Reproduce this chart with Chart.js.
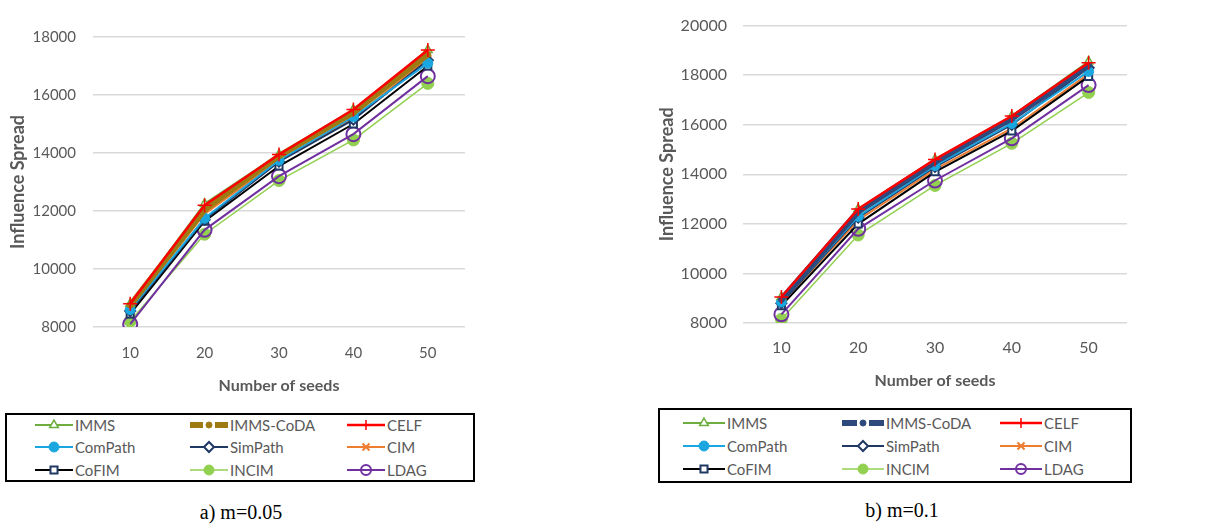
<!DOCTYPE html>
<html>
<head>
<meta charset="utf-8">
<script src="https://cdn.jsdelivr.net/npm/chart.js@4.4.1/dist/chart.umd.min.js"></script>
<style>
  html, body { margin: 0; padding: 0; background: #fff; }
  body { width: 1219px; height: 528px; position: relative; overflow: hidden; font-family: Lato, sans-serif; }
  .panel { position: absolute; top: 0; }
  .legend { position: absolute; border: 2px solid #000; box-sizing: border-box; background: #fff; }
  .item { position: absolute; display: flex; align-items: center; height: 16px; font-size: 15px; color: #595959; white-space: nowrap; }
  .item canvas { display: block; margin-right: 2px; }
  .caption { position: absolute; font-family: 'Liberation Serif', 'Times New Roman', serif; font-size: 20px; color: #000; transform: translate(-50%, -50%); white-space: nowrap; }
</style>
</head>
<body>
<div class="panel" style="left:0;width:610px;height:400px;"><canvas id="chartA" width="610" height="400"></canvas></div>
<div class="panel" style="left:610px;width:609px;height:400px;"><canvas id="chartB" width="609" height="400"></canvas></div>
<div class="legend" id="legendA" style="left:5px;top:413px;width:470px;height:69px;"></div>
<div class="legend" id="legendB" style="left:658px;top:408px;width:474px;height:75px;"></div>
<div class="caption" style="left:241px;top:512px;">a) m=0.05</div>
<div class="caption" style="left:902px;top:510px;">b) m=0.1</div>

<script>
// Number of seeds on the x axis
const seeds = ['10', '20', '30', '40', '50'];
const methods = ['IMMS', 'IMMS-CoDA', 'CELF', 'ComPath', 'SimPath', 'CIM', 'CoFIM', 'INCIM', 'LDAG'];

// Influence spread, m = 0.05
const immsA    = [8800, 12250, 13950, 15500, 17550];
const codaA    = [8750, 12050, 13900, 15400, 17400];
const celfA    = [8800, 12200, 13950, 15500, 17550];
const compathA = [8600, 11750, 13750, 15250, 17100];
const simpathA = [8550, 11700, 13700, 15150, 17200];
const cimA     = [8650, 11900, 13750, 15200, 17250];
const cofimA   = [8450, 11650, 13550, 15000, 17000];
const incimA   = [8200, 11200, 13050, 14450, 16400];
const ldagA    = [8100, 11350, 13200, 14650, 16650];

// Influence spread, m = 0.1
const immsB    = [9050, 12600, 14600, 16350, 18550];
const codaB    = [8950, 12500, 14500, 16250, 18400];
const celfB    = [9050, 12600, 14600, 16350, 18500];
const compathB = [8850, 12300, 14350, 16050, 18150];
const simpathB = [8800, 12250, 14300, 16000, 18300];
const cimB     = [8800, 12150, 14200, 15850, 18050];
const cofimB   = [8700, 12000, 14100, 15750, 17950];
const incimB   = [8150, 11550, 13550, 15250, 17300];
const ldagB    = [8350, 11800, 13750, 15450, 17600];

// y axis ranges
const yRangeA = [8000, 18000];
const yRangeB = [8000, 20000];
const yStep = 2000;

const seriesA = [immsA, codaA, celfA, compathA, simpathA, cimA, cofimA, incimA, ldagA];
const seriesB = [immsB, codaB, celfB, compathB, simpathB, cimB, cofimB, incimB, ldagB];

Chart.defaults.font.family = 'Lato, sans-serif';

// Line / marker style per method (lower order values are painted on top)
function styleFor(name, codaColor) {
  const s = {
    'IMMS':      { order: 2, borderColor: '#6DAE3E', backgroundColor: '#ffffff', pointBorderColor: '#6DAE3E', pointStyle: 'triangle', pointRadius: 5, borderWidth: 2, pointBorderWidth: 1.5 },
    'IMMS-CoDA': { order: 1, borderColor: codaColor, backgroundColor: codaColor, pointBorderColor: codaColor, pointStyle: 'circle', pointRadius: 3, borderWidth: 6, pointBorderWidth: 1 },
    'CELF':      { order: 0, borderColor: '#FF0000', backgroundColor: '#FF0000', pointBorderColor: '#FF0000', pointStyle: 'cross', pointRadius: 7, borderWidth: 2.5, pointBorderWidth: 1.5 },
    'ComPath':   { order: 3, borderColor: '#1AA7E0', backgroundColor: '#1AA7E0', pointBorderColor: '#1AA7E0', pointStyle: 'circle', pointRadius: 5, borderWidth: 2, pointBorderWidth: 1 },
    'SimPath':   { order: 4, borderColor: '#1F3864', backgroundColor: '#ffffff', pointBorderColor: '#1F3864', pointStyle: 'rectRot', pointRadius: 5, borderWidth: 2, pointBorderWidth: 2 },
    'CIM':       { order: 6, borderColor: '#ED7D31', backgroundColor: '#ED7D31', pointBorderColor: '#ED7D31', pointStyle: 'crossRot', pointRadius: 5, borderWidth: 2, pointBorderWidth: 2 },
    'CoFIM':     { order: 5, borderColor: '#000000', backgroundColor: '#ffffff', pointBorderColor: '#1F3864', pointStyle: 'rect', pointRadius: 5, borderWidth: 2, pointBorderWidth: 2 },
    'INCIM':     { order: 8, borderColor: '#92D050', backgroundColor: '#92D050', pointBorderColor: '#92D050', pointStyle: 'circle', pointRadius: 6, borderWidth: 1.5, pointBorderWidth: 1 },
    'LDAG':      { order: 7, borderColor: '#7030A0', backgroundColor: 'rgba(0,0,0,0)', pointBorderColor: '#7030A0', pointStyle: 'circle', pointRadius: 7, borderWidth: 2, pointBorderWidth: 2 }
  }[name];
  return {
    order: s.order,
    borderColor: s.borderColor,
    backgroundColor: s.backgroundColor,
    borderWidth: s.borderWidth,
    pointStyle: s.pointStyle,
    pointRadius: s.pointRadius,
    pointBackgroundColor: s.backgroundColor,
    pointBorderColor: s.pointBorderColor,
    pointBorderWidth: s.pointBorderWidth,
    pointHoverRadius: s.pointRadius,
    tension: 0,
    fill: false
  };
}

function buildDatasets(series, codaColor) {
  return methods.map((name, i) => Object.assign({ label: name, data: series[i] }, styleFor(name, codaColor)));
}

function makeChart(id, series, codaColor, range, geo) {
  return new Chart(document.getElementById(id), {
    type: 'line',
    data: { labels: seeds, datasets: buildDatasets(series, codaColor) },
    options: {
      responsive: false,
      animation: false,
      events: [],
      layout: { padding: { left: geo.padLeft, right: geo.padRight, top: geo.padTop, bottom: 0 } },
      plugins: { legend: { display: false }, tooltip: { enabled: false } },
      scales: {
        x: {
          type: 'category',
          offset: true,
          grid: { display: false, drawTicks: false },
          border: { display: false },
          ticks: { color: '#595959', font: { size: geo.tickSize }, padding: geo.xTickPad },
          title: { display: true, text: 'Number of seeds', color: '#595959', font: { size: 16, weight: 'bold' }, padding: { top: 0, bottom: geo.xTitlePad } },
          afterFit: s => { s.height = geo.xHeight; }
        },
        y: {
          min: range[0],
          max: range[1],
          grid: { color: '#D9D9D9', lineWidth: 1.5, drawTicks: false },
          border: { display: false },
          ticks: { stepSize: yStep, color: '#595959', font: { size: geo.tickSize }, padding: geo.yTickPad, callback: v => String(v) },
          title: { display: true, text: 'Influence Spread', color: '#595959', font: { size: 18, weight: 'bold' }, padding: { top: geo.yTitlePad, bottom: 0 } },
          afterFit: s => { s.width = geo.yWidth; }
        }
      }
    }
  });
}

const chartA = makeChart('chartA', seriesA, '#9E7A12', yRangeA,
  { padLeft: 0, padRight: 145, padTop: 37, xHeight: 73, yWidth: 93, tickSize: 15, xTickPad: 17, yTickPad: 17, xTitlePad: 5, yTitlePad: 7 });
const chartB = makeChart('chartB', seriesB, '#2E4A7D', yRangeB,
  { padLeft: 40, padRight: 92, padTop: 23, xHeight: 77, yWidth: 93, tickSize: 16, xTickPad: 15, yTickPad: 16, xTitlePad: 10, yTitlePad: 6 });

// Legend built from each chart's datasets: line sample with marker, then label
function buildLegend(chart, boxId, cols, rows, sampleW) {
  const box = document.getElementById(boxId);
  chart.data.datasets.forEach((ds, i) => {
    const item = document.createElement('div');
    item.className = 'item';
    item.style.left = cols[i % 3] + 'px';
    item.style.top = (rows[Math.floor(i / 3)] - 8) + 'px';
    const c = document.createElement('canvas');
    c.width = sampleW; c.height = 16;
    const ctx = c.getContext('2d');
    const mid = sampleW / 2;
    ctx.strokeStyle = ds.borderColor;
    ctx.lineWidth = ds.borderWidth;
    ctx.beginPath();
    if (ds.borderWidth > 4) {
      // thick line: leave a small gap around the marker
      ctx.moveTo(0, 8); ctx.lineTo(mid - 6, 8);
      ctx.moveTo(mid + 6, 8); ctx.lineTo(sampleW, 8);
    } else {
      ctx.moveTo(0, 8); ctx.lineTo(sampleW, 8);
    }
    ctx.stroke();
    ctx.fillStyle = ds.pointBackgroundColor;
    ctx.strokeStyle = ds.pointBorderColor;
    ctx.lineWidth = ds.pointBorderWidth;
    Chart.helpers.drawPoint(ctx, { pointStyle: ds.pointStyle, radius: Math.min(ds.pointRadius, 5), rotation: 0, borderWidth: ds.pointBorderWidth }, mid, 8);
    item.appendChild(c);
    const t = document.createElement('span');
    t.textContent = ds.label;
    item.appendChild(t);
    box.appendChild(item);
  });
}

buildLegend(chartA, 'legendA', [28, 183, 340], [10, 32, 55], 38);
buildLegend(chartB, 'legendB', [23, 182, 340], [13, 36, 59], 42);
</script>
</body>
</html>
